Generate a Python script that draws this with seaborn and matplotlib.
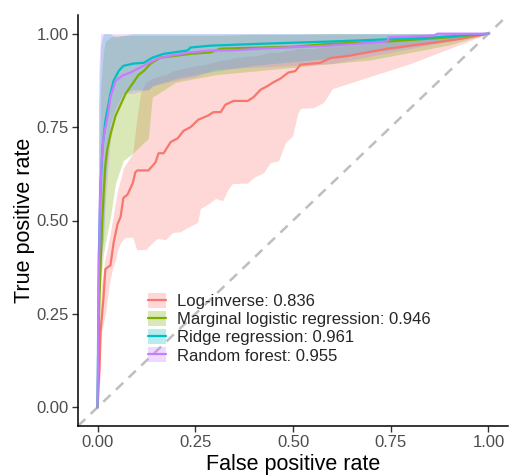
import numpy as np
import pandas as pd
import matplotlib
matplotlib.use("Agg")
import matplotlib.pyplot as plt
import seaborn as sns
from matplotlib.patches import Patch
from matplotlib.lines import Line2D
from matplotlib.legend_handler import HandlerTuple

# ---- models, AUCs and colours ----
models = ["Log-inverse", "Marginal logistic regression", "Ridge regression", "Random forest"]
auc = [0.836, 0.946, 0.961, 0.955]
colors = ["#F8766D", "#7CAE00", "#00BFC4", "#C77CFF"]

# ---- mean ROC curves ----
loginv_fpr = [0, 0.005, 0.008, 0.015, 0.02, 0.033, 0.041, 0.051, 0.059, 0.066, 0.077, 0.09,
              0.097, 0.102, 0.13, 0.148, 0.156, 0.169, 0.187, 0.205, 0.22, 0.238, 0.258, 0.281,
              0.297, 0.315, 0.327, 0.348, 0.384, 0.399, 0.417, 0.435, 0.45, 0.468, 0.488, 0.506,
              0.519, 0.57, 0.596, 0.639, 0.742, 0.859, 0.928, 1.0]
loginv_tpr = [0, 0.1, 0.206, 0.29, 0.37, 0.38, 0.44, 0.49, 0.51, 0.56, 0.57, 0.60,
              0.63, 0.634, 0.634, 0.655, 0.68, 0.68, 0.71, 0.72, 0.74, 0.75, 0.77, 0.78,
              0.79, 0.79, 0.81, 0.82, 0.82, 0.83, 0.85, 0.86, 0.87, 0.88, 0.896, 0.90,
              0.917, 0.922, 0.935, 0.94, 0.96, 0.976, 0.986, 1.0]

marg_fpr = [0, 0.005, 0.012, 0.015, 0.02, 0.025, 0.033, 0.046, 0.059, 0.072, 0.092, 0.105,
            0.118, 0.136, 0.161, 0.194, 0.238, 0.289, 0.315, 0.5, 0.596, 0.742, 0.895, 1.0]
marg_tpr = [0, 0.3, 0.5, 0.56, 0.65, 0.69, 0.73, 0.78, 0.81, 0.84, 0.87, 0.89,
            0.90, 0.92, 0.936, 0.94, 0.946, 0.95, 0.96, 0.965, 0.973, 0.979, 0.99, 1.0]

ridge_fpr = [0, 0.003, 0.008, 0.013, 0.02, 0.033, 0.041, 0.054, 0.066, 0.092, 0.118, 0.141,
             0.169, 0.23, 0.238, 0.289, 0.417, 0.596, 0.742, 0.86, 1.0]
ridge_tpr = [0, 0.4, 0.6, 0.7, 0.767, 0.84, 0.874, 0.90, 0.914, 0.92, 0.922, 0.936,
             0.946, 0.955, 0.963, 0.968, 0.973, 0.979, 0.985, 0.99, 1.0]

rf_fpr = [0, 0.003, 0.006, 0.01, 0.015, 0.026, 0.033, 0.046, 0.064, 0.084, 0.11, 0.128,
          0.153, 0.179, 0.238, 0.289, 0.34, 0.417, 0.596, 0.742, 0.744, 0.86, 0.87, 1.0]
rf_tpr = [0, 0.3, 0.55, 0.65, 0.72, 0.78, 0.83, 0.874, 0.888, 0.896, 0.91, 0.92,
          0.933, 0.94, 0.95, 0.955, 0.955, 0.96, 0.968, 0.979, 0.99, 0.995, 1.0, 1.0]

# ---- confidence bands ----
loginv_band_fpr = [0, 0.005, 0.01, 0.02, 0.03, 0.038, 0.046, 0.051, 0.059, 0.066, 0.072, 0.09,
                   0.1, 0.11, 0.123, 0.14, 0.153, 0.174, 0.192, 0.212, 0.23, 0.256, 0.263, 0.284,
                   0.302, 0.32, 0.332, 0.345, 0.384, 0.399, 0.425, 0.442, 0.463, 0.481, 0.499,
                   0.512, 0.519, 0.552, 0.578, 0.601, 0.8, 1.0]
loginv_lo = [0, 0.15, 0.2, 0.25, 0.33, 0.37, 0.393, 0.42, 0.441, 0.45, 0.455, 0.455,
             0.422, 0.422, 0.422, 0.44, 0.452, 0.449, 0.468, 0.47, 0.481, 0.495, 0.532, 0.545,
             0.559, 0.553, 0.58, 0.599, 0.60, 0.615, 0.628, 0.655, 0.66, 0.709, 0.727,
             0.786, 0.80, 0.802, 0.816, 0.853, 0.92, 1.0]
loginv_hi = [0, 0.2, 0.33, 0.4, 0.45, 0.50, 0.55, 0.58, 0.61, 0.64, 0.65, 0.68,
             0.77, 0.84, 0.87, 0.88, 0.885, 0.89, 0.90, 0.905, 0.91, 0.915, 0.915, 0.92,
             0.925, 0.93, 0.93, 0.935, 0.94, 0.94, 0.945, 0.95, 0.95, 0.955, 0.955,
             0.96, 0.96, 0.96, 0.965, 0.965, 0.985, 1.0]

band_fpr = [0, 0.003, 0.008, 0.015, 0.02, 0.033, 0.046, 0.066, 0.09, 0.13, 0.14,
            0.2, 0.25, 0.3, 0.4, 0.5, 0.6, 0.7, 0.8, 0.9, 1.0]
marg_lo = [0, 0.2, 0.33, 0.41, 0.44, 0.51, 0.6, 0.66, 0.68, 0.72, 0.83,
           0.87, 0.88, 0.89, 0.90, 0.91, 0.92, 0.93, 0.95, 0.97, 1.0]
marg_hi = [0, 0.5, 0.85, 0.95, 0.98, 0.99, 0.995, 0.995, 0.995, 0.995, 0.995,
           0.995, 0.995, 0.995, 0.998, 0.998, 1.0, 1.0, 1.0, 1.0, 1.0]
ridge_lo = [0, 0.3, 0.4, 0.45, 0.6, 0.76, 0.80, 0.84, 0.85, 0.85, 0.86,
            0.88, 0.89, 0.90, 0.915, 0.925, 0.935, 0.95, 0.965, 0.98, 1.0]
ridge_hi = [0, 0.8, 0.97, 1.0, 1.0, 1.0, 0.99, 0.995, 1.0, 1.0, 1.0,
            1.0, 1.0, 1.0, 1.0, 1.0, 1.0, 1.0, 1.0, 1.0, 1.0]
rf_lo = [0, 0.25, 0.38, 0.45, 0.55, 0.72, 0.79, 0.84, 0.84, 0.85, 0.86,
         0.875, 0.885, 0.905, 0.91, 0.915, 0.92, 0.94, 0.96, 0.98, 1.0]
rf_hi = [0, 0.9, 1.0, 1.0, 1.0, 1.0, 1.0, 1.0, 1.0, 1.0, 1.0,
         1.0, 1.0, 1.0, 1.0, 1.0, 1.0, 1.0, 1.0, 1.0, 1.0]

curves = [(loginv_fpr, loginv_tpr), (marg_fpr, marg_tpr), (ridge_fpr, ridge_tpr), (rf_fpr, rf_tpr)]
bands = [(loginv_band_fpr, loginv_lo, loginv_hi), (band_fpr, marg_lo, marg_hi),
         (band_fpr, ridge_lo, ridge_hi), (band_fpr, rf_lo, rf_hi)]

df = pd.concat([pd.DataFrame({"fpr": f, "tpr": t, "model": m})
                for m, (f, t) in zip(models, curves)], ignore_index=True)

sns.set_style("white")
plt.rcParams["font.family"] = ["Liberation Sans", "DejaVu Sans"]

W, H = 513, 475
fig = plt.figure(figsize=(W / 100, H / 100), dpi=100)
ax = fig.add_axes([78 / W, 49 / H, 430 / W, 411 / H])

band_alpha = 0.28
for (bf, lo, hi), c in zip(bands, colors):
    ax.fill_between(bf, lo, hi, color=c, alpha=band_alpha, linewidth=0)

ax.axline((0, 0), (1, 1), color="#BEBEBE", lw=1.8, dashes=(4, 3), zorder=1)

sns.lineplot(data=df, x="fpr", y="tpr", hue="model", hue_order=models,
             palette=dict(zip(models, colors)), estimator=None, sort=False,
             lw=1.6, legend=False, ax=ax, zorder=3)

ax.set_xlim(-0.05, 1.05)
ax.set_ylim(-0.05, 1.05)
ticks = [0, 0.25, 0.5, 0.75, 1.0]
ax.set_xticks(ticks)
ax.set_yticks(ticks)
ax.set_xticklabels([f"{t:.2f}" for t in ticks])
ax.set_yticklabels([f"{t:.2f}" for t in ticks])
ax.tick_params(axis="both", which="major", length=4, width=1.0, color="#333333",
               labelsize=12, labelcolor="#4D4D4D", pad=2.5, left=True, bottom=True)
for side in ["top", "right"]:
    ax.spines[side].set_visible(False)
for side in ["left", "bottom"]:
    ax.spines[side].set_color("black")
    ax.spines[side].set_linewidth(1.1)

ax.set_xlabel("False positive rate", fontsize=15.5, color="black", labelpad=3)
ax.set_ylabel("True positive rate", fontsize=15.5, color="black", labelpad=1.5)

handles = [(Patch(facecolor=c, alpha=band_alpha, edgecolor="none"),
            Line2D([], [], color=c, lw=1.6)) for c in colors]
labels = [f"{m}: {a:.3f}" for m, a in zip(models, auc)]
ax.legend(handles, labels, handler_map={tuple: HandlerTuple(ndivide=1)},
          loc="upper left", bbox_to_anchor=(148 / W, 1 - 293 / H),
          bbox_transform=fig.transFigure, frameon=False, fontsize=12,
          handlelength=1.05, handleheight=1.0, handletextpad=0.7,
          labelspacing=0.12, borderpad=0, borderaxespad=0)

fig.savefig("out.png", dpi=100)
